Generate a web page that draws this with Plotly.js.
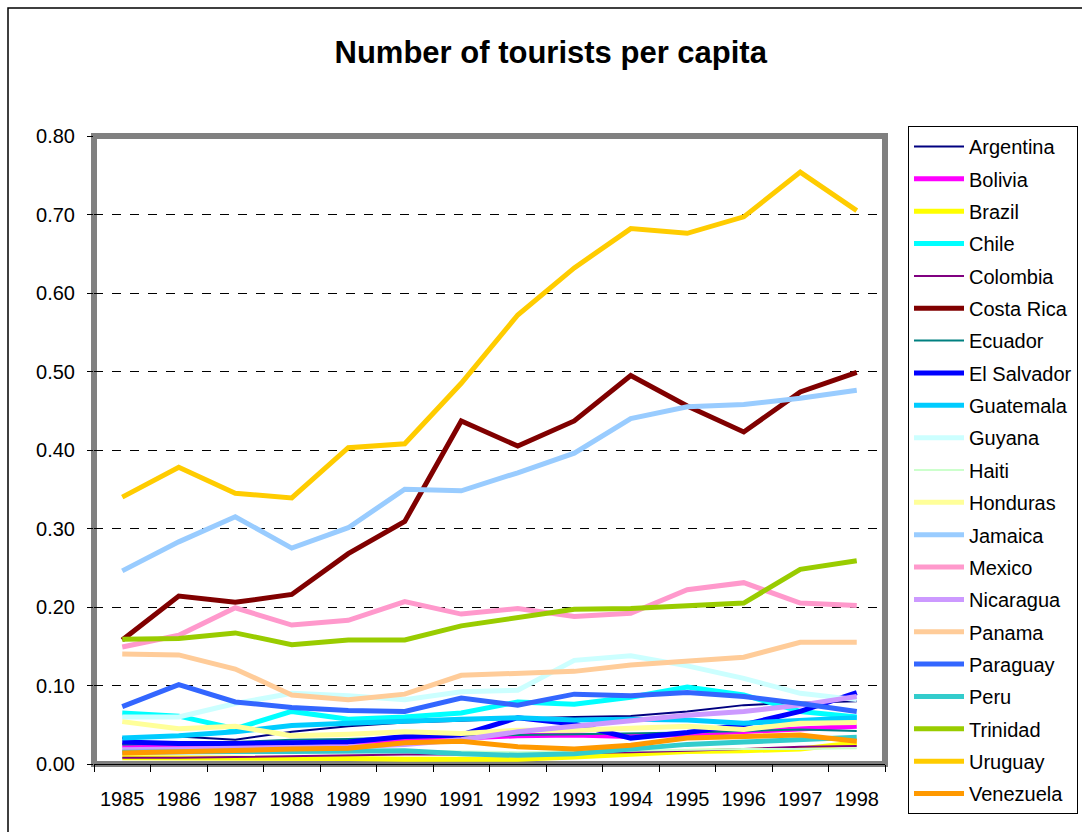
<!DOCTYPE html>
<html>
<head>
<meta charset="utf-8">
<script src="https://cdn.plot.ly/plotly-3.0.1.min.js"></script>
<style>html,body{margin:0;padding:0;background:#fff;}#chart{width:1082px;height:832px;}</style>
</head>
<body>
<div id="chart"></div>
<script>
const years = ['1985','1986','1987','1988','1989','1990','1991','1992','1993','1994','1995','1996','1997','1998'];

const argentina  = [0.033,0.035,0.031,0.041,0.048,0.053,0.055,0.058,0.060,0.061,0.067,0.075,0.078,0.080];
const bolivia    = [0.024,0.022,0.022,0.023,0.024,0.030,0.033,0.036,0.037,0.035,0.038,0.041,0.045,0.048];
const brazil     = [0.008,0.008,0.008,0.007,0.007,0.006,0.006,0.006,0.009,0.013,0.016,0.017,0.019,0.027];
const chile      = [0.065,0.061,0.045,0.067,0.057,0.060,0.065,0.079,0.076,0.085,0.098,0.088,0.067,0.060];
const colombia   = [0.008,0.008,0.009,0.010,0.011,0.012,0.012,0.013,0.014,0.015,0.017,0.019,0.022,0.023];
const costaRica  = [0.158,0.214,0.206,0.216,0.268,0.309,0.437,0.405,0.437,0.495,0.456,0.423,0.474,0.499];
const ecuador    = [0.025,0.026,0.028,0.031,0.032,0.034,0.035,0.037,0.038,0.039,0.040,0.042,0.044,0.042];
const elSalvador = [0.028,0.026,0.026,0.027,0.028,0.035,0.037,0.059,0.051,0.033,0.040,0.050,0.067,0.091];
const guatemala  = [0.033,0.036,0.041,0.049,0.052,0.055,0.057,0.059,0.056,0.057,0.056,0.052,0.056,0.059];
const guyana     = [0.060,0.060,0.077,0.090,0.087,0.082,0.092,0.094,0.132,0.138,0.125,0.109,0.090,0.082];
const haiti      = [0.018,0.017,0.017,0.016,0.016,0.017,0.016,0.015,0.016,0.017,0.018,0.019,0.019,0.020];
const honduras   = [0.054,0.045,0.048,0.036,0.038,0.041,0.039,0.043,0.043,0.045,0.048,0.044,0.052,0.053];
const jamaica    = [0.246,0.283,0.315,0.275,0.301,0.350,0.348,0.371,0.396,0.440,0.455,0.458,0.466,0.476];
const mexico     = [0.149,0.164,0.199,0.177,0.183,0.207,0.191,0.198,0.188,0.192,0.222,0.231,0.205,0.202];
const nicaragua  = [0.018,0.019,0.020,0.021,0.022,0.025,0.031,0.041,0.048,0.054,0.062,0.067,0.075,0.086];
const panama     = [0.140,0.139,0.121,0.088,0.082,0.089,0.113,0.116,0.118,0.126,0.131,0.136,0.155,0.155];
const paraguay   = [0.073,0.101,0.079,0.072,0.068,0.067,0.084,0.075,0.089,0.087,0.091,0.086,0.077,0.067];
const peru       = [0.015,0.016,0.016,0.016,0.017,0.017,0.013,0.011,0.013,0.019,0.025,0.028,0.031,0.034];
const trinidad   = [0.159,0.160,0.167,0.152,0.158,0.158,0.176,0.187,0.197,0.198,0.202,0.205,0.248,0.259];
const uruguay    = [0.340,0.378,0.345,0.339,0.403,0.408,0.485,0.572,0.632,0.682,0.676,0.697,0.754,0.705];
const venezuela  = [0.014,0.016,0.018,0.019,0.020,0.027,0.029,0.022,0.019,0.024,0.033,0.035,0.037,0.029];

const seriesNames = ['Argentina','Bolivia','Brazil','Chile','Colombia','Costa Rica','Ecuador','El Salvador','Guatemala','Guyana','Haiti','Honduras','Jamaica','Mexico','Nicaragua','Panama','Paraguay','Peru','Trinidad','Uruguay','Venezuela'];
const seriesValues = [argentina,bolivia,brazil,chile,colombia,costaRica,ecuador,elSalvador,guatemala,guyana,haiti,honduras,jamaica,mexico,nicaragua,panama,paraguay,peru,trinidad,uruguay,venezuela];
const seriesColors = ['#000080','#FF00FF','#FFFF00','#00FFFF','#800080','#800000','#008080','#0000FF','#00CCFF','#CCFFFF','#CCFFCC','#FFFF99','#99CCFF','#FF99CC','#CC99FF','#FFCC99','#3366FF','#33CCCC','#99CC00','#FFCC00','#FF9900'];
const seriesWidths = [2,5,5,5,2,5,2,5,5,5,2,5,5,5,5,5,5,5,5,5,5];

const traces = seriesNames.map((n,i)=>({
  type:'scatter', mode:'lines', name:n, x:years, y:seriesValues[i],
  legendgroup:'g'+i,
  line:{color:seriesColors[i], width:seriesWidths[i]}
}));

const L=94, R=197, T=136, B=68;
const W=1082-L-R, H=832-T-B;

const layout = {
  width:1082, height:832,
  margin:{l:L, r:R, t:T, b:B, pad:0, autoexpand:false},
  paper_bgcolor:'#ffffff', plot_bgcolor:'#ffffff',
  font:{family:'Arial, Liberation Sans, sans-serif', size:20, color:'#000'},
  title:{text:'<b>Number of tourists per capita</b>', font:{size:31, color:'#000'}, x:0.509, xanchor:'center', y:0.937, yanchor:'middle'},
  showlegend:true,
  legend:{x:(908-L)/W, xanchor:'left', y:(832-B-126)/H, yanchor:'top',
    bgcolor:'#fff', bordercolor:'#000', borderwidth:1, maxheight:720,
    font:{size:20}, traceorder:'grouped', tracegroupgap:3.35, itemwidth:50},
  xaxis:{type:'category', range:[-0.5,13.5], tickson:'boundaries', ticks:'outside', ticklen:7, tickcolor:'#000',
    showline:true, linecolor:'#000', linewidth:1, showgrid:false, tickfont:{size:20}, ticklabelstandoff:17, fixedrange:true},
  yaxis:{range:[0,0.8], tickvals:[0,0.1,0.2,0.3,0.4,0.5,0.6,0.7,0.8], tickformat:'.2f', ticks:'outside', ticklen:6, tickcolor:'#000',
    showgrid:true, gridcolor:'#000', gridwidth:1, griddash:'dash', zeroline:false, showline:false, tickfont:{size:20}, ticklabelstandoff:8, fixedrange:true},
  shapes:[
    {type:'rect', xref:'paper', yref:'paper', x0:0, x1:1, y0:0, y1:1, line:{color:'#808080', width:6}, layer:'below'},
    {type:'rect', xref:'paper', yref:'paper', x0:-(L-8)/W, x1:1+(R+20)/W, y0:-(B+20)/H, y1:1+(T-8)/H, line:{color:'#000', width:1.5}, layer:'below'}
  ]
};

Plotly.newPlot('chart', traces, layout, {displayModeBar:false, staticPlot:true});
</script>
</body>
</html>
